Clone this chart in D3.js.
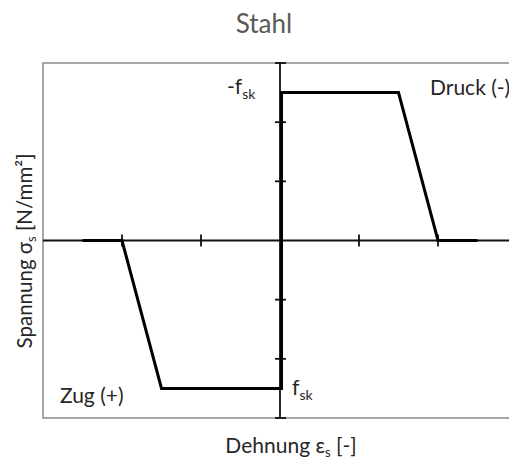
<!DOCTYPE html>
<html><head><meta charset="utf-8">
<script src="https://cdn.jsdelivr.net/npm/d3@7"></script>
<style>body{margin:0;background:#fff}svg{display:block}text{font-family:Lato,"Open Sans",sans-serif}</style>
</head><body><svg id="c" width="509" height="461"></svg>
<script>
const curveX = [-2.5, -2, -1.5, 0, 0, 1.5, 2, 2.5];
const curveY = [0, 0, -2.5, -2.5, 2.5, 2.5, 0, 0];
const xTicks = [-2, -1, 1, 2];
const yTicks = [-3, -2, -1, 1, 2, 3];
const title = "Stahl";

const svg = d3.select("#c");
const x = d3.scaleLinear().domain([-3, 3]).range([43, 517]);
const y = d3.scaleLinear().domain([-3, 3]).range([418, 63]);

svg.append("text").attr("x", 264).attr("y", 33).attr("text-anchor", "middle")
  .attr("font-size", 26).attr("fill", "#595959").text(title);

// box
svg.append("rect").attr("x", x(-3)).attr("y", y(3)).attr("width", x(3) - x(-3)).attr("height", y(-3) - y(3))
  .attr("fill", "none").attr("stroke", "#8a8a8a").attr("stroke-width", 1.5);

// axes
svg.append("line").attr("x1", x(-3)).attr("x2", x(3)).attr("y1", y(0)).attr("y2", y(0)).attr("stroke", "#111").attr("stroke-width", 1.8);
svg.append("line").attr("x1", x(0)).attr("x2", x(0)).attr("y1", y(3)).attr("y2", y(-3)).attr("stroke", "#111").attr("stroke-width", 1.8);

svg.selectAll(".xt").data(xTicks).enter().append("line")
  .attr("x1", d => x(d)).attr("x2", d => x(d)).attr("y1", y(0) - 6).attr("y2", y(0) + 6)
  .attr("stroke", "#111").attr("stroke-width", 1.8);
svg.selectAll(".yt").data(yTicks).enter().append("line")
  .attr("x1", x(0) - 5).attr("x2", x(0) + 6).attr("y1", d => y(d)).attr("y2", d => y(d))
  .attr("stroke", "#111").attr("stroke-width", 1.8);

// curve
const pts = curveX.map((v, i) => [v, curveY[i]]);
svg.append("path").datum(pts)
  .attr("d", d3.line().x(d => x(d[0]) + (d[0] === 0 ? 1.5 : 0)).y(d => y(d[1])))
  .attr("fill", "none").attr("stroke", "#000").attr("stroke-width", 3).attr("stroke-linejoin", "miter");

// labels
const lab = "#262626";
svg.append("text").attr("x", 430).attr("y", 95).attr("font-size", 21).attr("fill", lab).text("Druck (-)");
svg.append("text").attr("x", 60).attr("y", 403).attr("font-size", 21).attr("fill", lab).text("Zug (+)");
const t1 = svg.append("text").attr("x", 227).attr("y", 94).attr("font-size", 21).attr("fill", lab);
t1.append("tspan").text("-f");
t1.append("tspan").attr("font-size", 14).attr("dy", 5).text("sk");
const t2 = svg.append("text").attr("x", 292).attr("y", 395).attr("font-size", 21).attr("fill", lab);
t2.append("tspan").text("f");
t2.append("tspan").attr("font-size", 14).attr("dy", 5).text("sk");

const xl = svg.append("text").attr("x", 291).attr("y", 453).attr("text-anchor", "middle").attr("font-size", 21).attr("fill", lab);
xl.append("tspan").text("Dehnung ε");
xl.append("tspan").attr("font-size", 13).attr("dy", 4).text("s");
xl.append("tspan").attr("dy", -4).text(" [-]");

const yl = svg.append("text").attr("transform", "translate(32,251) rotate(-90)").attr("text-anchor", "middle").attr("font-size", 20.5).attr("fill", lab);
yl.append("tspan").text("Spannung σ");
yl.append("tspan").attr("font-size", 13).attr("dy", 4).text("s");
yl.append("tspan").attr("dy", -4).text(" [N/mm²]");
</script></body></html>
